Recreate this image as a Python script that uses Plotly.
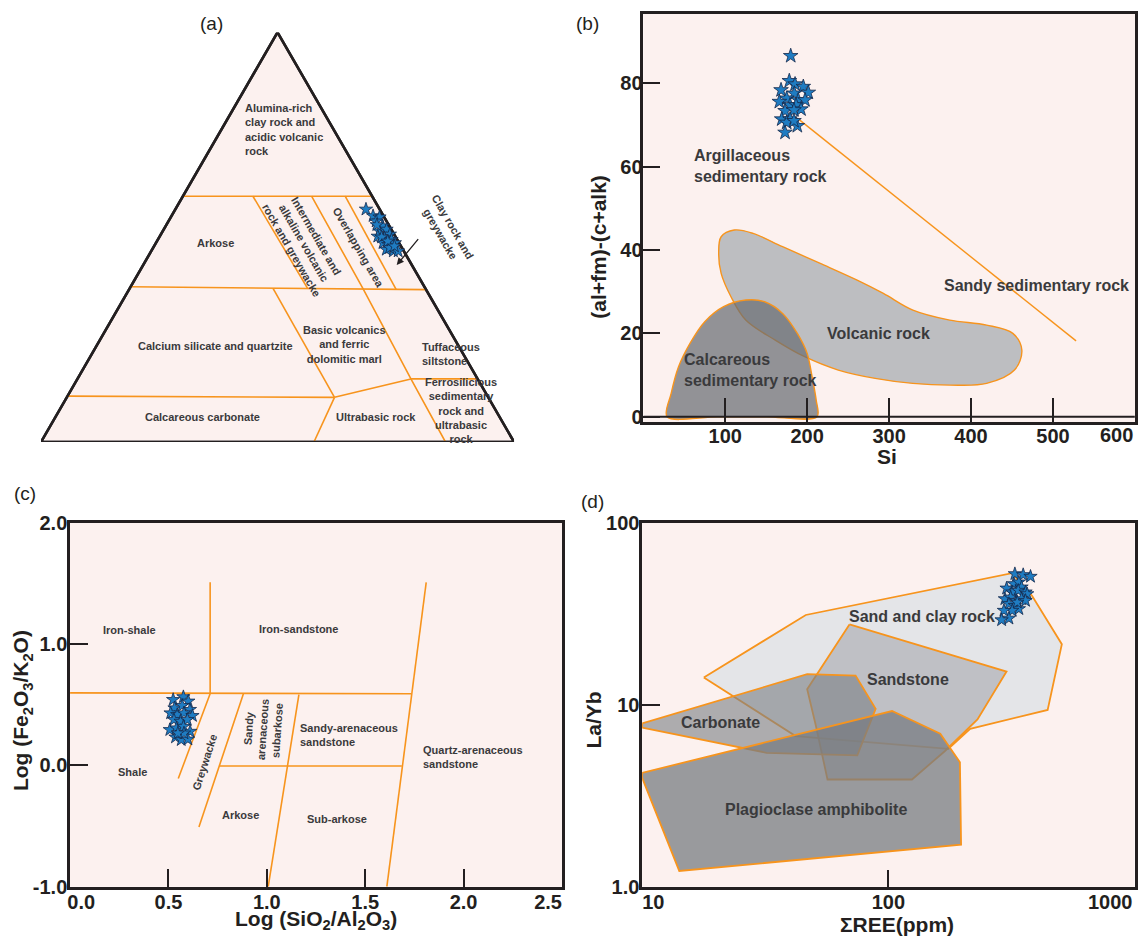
import math
import plotly.graph_objects as go

FONT = "Liberation Sans, Arial, Helvetica, sans-serif"
INK = "#231F20"
LABEL = "#3A3A3C"
ORANGE = "#F7941D"
PINK = "#FCF1EF"
STAR_FILL = "#1F7CC2"
STAR_EDGE = "#14284B"
NB = "\u00a0"
SQ3 = math.sqrt(3) / 2
W, H = 1139, 936

# ---------------- (a) A-C-FM ternary (values in %) ----------------
a_A = [56.8, 55.2, 54.9, 53.9, 52.7, 51.5, 51.9, 50.7, 50.2, 49.8, 49.4, 48.6,
       48.2, 48.6, 47.0, 46.6, 46.6, 47.4, 53.0, 50.0, 49.0, 47.8]
a_C = [2.9, 2.2, 1.0, 2.2, 1.4, 2.7, 1.0, 0.9, 3.7, 2.5, 1.2, 3.4,
       2.5, 0.9, 3.5, 2.2, 1.2, 2.6, 2.5, 3.0, 2.2, 1.4]
a_FM = [40.3, 42.6, 44.1, 43.9, 45.9, 45.8, 47.1, 48.4, 46.1, 47.7, 49.4, 48.0,
        49.3, 50.5, 49.5, 51.2, 52.2, 50.0, 44.5, 47.0, 48.8, 50.8]

# field boundaries, points as (A, C, FM)
a_outline = [(100, 0, 0), (0, 100, 0), (0, 0, 100), (100, 0, 0)]
a_bounds = [
    [(60, 40, 0), (60, 0, 40)],
    [(37.9, 62.1, 0), (37.2, 0, 62.8)],
    [(60, 25.2, 14.8), (37.5, 24.9, 37.6)],
    [(60, 12.8, 27.2), (37.4, 13.2, 49.4), (15.4, 14.1, 70.5), (0, 14.5, 85.5)],
    [(60, 5.7, 34.3), (37.2, 6.3, 56.5)],
    [(37.5, 32.2, 30.3), (10.9, 32.5, 56.6)],
    [(11.2, 88.8, 0), (10.9, 32.5, 56.6)],
    [(10.9, 32.5, 56.6), (15.4, 14.1, 70.5)],
    [(10.9, 32.5, 56.6), (0, 42.3, 57.7)],
    [(15.4, 14.1, 70.5), (15.4, 0, 84.6)],
]
# field names: (text, A, C, FM, angle, align)
a_fields = [
    ("Alumina-rich<br>clay rock and<br>acidic volcanic<br>rock", 76.2, 10.6, 13.2, 0, "left"),
    ("Arkose", 48.7, 38.85, 12.45, 0, "center"),
    ("Intermediate and<br>alkaline volcanic<br>rock and greywacke", 48.6, 20.3, 31.1, 60, "center"),
    ("Overlapping area", 47.4, 9.1, 43.5, 60, "center"),
    ("Clay rock and<br>greywacke", 51.8, -11.65, 59.85, 60, "center"),
    ("Calcium silicate and quartzite", 23.4, 51.5, 25.1, 0, "center"),
    ("Basic volcanics<br>and ferric<br>dolomitic marl", 23.8, 23.9, 52.3, 0, "center"),
    ("Tuffaceous<br>siltstone", 21.6, 2.6, 75.8, 0, "left"),
    ("Ferrosilicious<br>sedimentary<br>rock and<br>ultrabasic<br>rock", 7.8, 7.3, 84.9, 0, "center"),
    ("Ultrabasic rock", 6.1, 26.2, 67.7, 0, "center"),
    ("Calcareous carbonate", 6.1, 62.9, 31.0, 0, "center"),
]

# ---------------- (b) (al+fm)-(c+alk) vs Si ----------------
b_si = [179.9, 178.2, 185.2, 168.1, 195.3, 201.4, 184.3, 175.0, 166.0, 189.2, 197.4,
        179.1, 186.4, 173.0, 192.5, 183.9, 168.9, 179.1, 175.0, 188.0, 183.9, 173.0]
b_val = [86.6, 80.6, 79.8, 78.4, 79.2, 77.8, 77.6, 76.4, 75.6, 76.0, 76.0,
         74.8, 74.8, 73.4, 73.8, 73.6, 71.4, 71.4, 70.6, 69.8, 71.0, 68.2]
b_line_si = [188.3, 528.2]
b_line_val = [71.6, 18.2]
volc_si = [92, 95, 111, 134, 170, 216, 261, 293, 329, 374, 419, 451, 462, 453, 419,
           374, 329, 283, 238, 197, 161, 125, 107, 95, 92]
volc_val = [39.2, 43.2, 44.8, 44.0, 40.8, 36.8, 32.8, 29.6, 25.6, 23.2, 22.0, 20.0, 16.0,
            11.2, 8.0, 7.6, 8.0, 9.2, 11.2, 14.4, 18.4, 23.2, 28.8, 34.4, 39.2]
calc_si = [29, 34, 43, 57, 75, 98, 125, 148, 170, 188, 200, 206, 211, 212, 150, 90, 29]
calc_val = [0, 5.6, 12, 17.6, 22.8, 26.4, 28, 27.6, 24.8, 20, 15.2, 9.6, 4, 0, 0, 0, 0]
b_fields = [
    ("Argillaceous<br>sedimentary rock", 59, 60.2, "left"),
    ("Sandy sedimentary rock", 364, 31.6, "left"),
    ("Volcanic rock", 286.6, 20.0, "center"),
    ("Calcareous<br>sedimentary rock", 47, 11.2, "left"),
]
b_xticks = [100, 200, 300, 400, 500, 600]
b_xtext = ["100", "200", "300", "400", "500", "600"]
b_yticks = [0, 20, 40, 60, 80]

# ---------------- (c) Log(Fe2O3/K2O) vs Log(SiO2/Al2O3) ----------------
c_x = [0.524, 0.576, 0.601, 0.531, 0.570, 0.609, 0.511, 0.545, 0.579, 0.622, 0.528,
       0.562, 0.596, 0.507, 0.541, 0.576, 0.610, 0.536, 0.565, 0.599, 0.579, 0.548]
c_y = [0.541, 0.564, 0.528, 0.472, 0.492, 0.459, 0.431, 0.417, 0.431, 0.409, 0.376,
       0.362, 0.376, 0.293, 0.307, 0.320, 0.279, 0.232, 0.210, 0.215, 0.265, 0.265]
c_bounds = [
    ([0.0, 1.734], [0.597, 0.59]),
    ([0.712, 0.712], [1.508, 0.597]),
    ([1.81, 1.61], [1.508, -1.0]),
    ([0.712, 0.550], [0.59, -0.108]),
    ([0.881, 0.655], [0.59, -0.508]),
    ([1.163, 1.007], [0.583, -1.0]),
    ([0.759, 1.686], [-0.006, -0.006]),
]
c_fields = [
    ("Iron-shale", 0.30, 1.116, 0, "center"),
    ("Iron-sandstone", 1.163, 1.127, 0, "center"),
    ("Shale", 0.316, -0.058, 0, "center"),
    ("Greywacke", 0.683, 0.03, -72, "center"),
    ("Sandy<br>arenaceous<br>subarkose", 0.982, 0.293, -86, "center"),
    ("Sandy-arenaceous<br>sandstone", 1.42, 0.246, 0, "left"),
    ("Quartz-arenaceous<br>sandstone", 2.05, 0.066, 0, "left"),
    ("Arkose", 0.868, -0.406, 0, "center"),
    ("Sub-arkose", 1.359, -0.439, 0, "center"),
]
c_xticks = [0, 0.5, 1.0, 1.5, 2.0, 2.5]
c_xtext = [NB * 4 + "0.0", "0.5", "1.0", "1.5", "2.0", "2.5" + NB * 5]
c_yticks = [-1, 0, 1, 2]
c_ytext = ["-1.0", "0.0", "1.0", "2.0"]

# ---------------- (d) La/Yb vs total REE ----------------
d_ree = [326.5, 352.9, 377.9, 323.5, 338.9, 347.5, 302.2, 318.5, 336.8, 360.7, 366.3, 297.4,
         313.8, 330.7, 347.5, 360.7, 308.8, 326.5, 338.9, 318.5, 294.7, 308.8, 288.4, 333.7]
d_layb = [52.3, 51.7, 50.6, 46.1, 47.1, 44.2, 43.6, 41.5, 42.4, 41.5, 40.6, 38.1,
          38.9, 37.3, 38.1, 37.3, 35.8, 35.0, 33.6, 32.9, 32.9, 29.8, 29.2, 36.5]
sandclay_ree = [17.8, 46.2, 317.8, 383.3, 506.6, 443.6, 214.9, 175.2, 42.0, 17.8]
sandclay_lr = [14.1, 31.1, 52.8, 39.7, 21.5, 9.35, 7.37, 5.72, 6.72, 14.1]
sandstone_ree = [69.5, 302.0, 230.1, 169.4, 124.7, 56.6, 50.8, 46.8, 69.5]
sandstone_lr = [27.6, 15.2, 8.30, 5.55, 3.88, 3.88, 7.63, 12.15, 27.6]
carb_ree = [10.0, 46.8, 73.6, 88.8, 74.8, 32.0, 10.0, 10.0]
carb_lr = [7.89, 14.7, 14.45, 9.50, 5.26, 5.44, 7.47, 7.89]
plag_ree = [10.0, 103.5, 162.5, 195.3, 197.4, 14.15, 10.0, 10.0]
plag_lr = [4.22, 9.23, 6.92, 4.83, 1.70, 1.22, 3.96, 4.22]
d_fields = [
    ("Sand and clay rock", 137.2, 30.7),
    ("Sandstone", 120.6, 13.8),
    ("Carbonate", 20.9, 7.96),
    ("Plagioclase amphibolite", 51.0, 2.65),
]
d_xticks = [10, 100, 1000]
d_xtext = [NB * 4 + "10", "100", "1000"]
d_yticks = [1, 10, 100]
d_ytext = ["1.0", "10", "100"]


def tern(a, c, fm):
    """(A, C, FM) percentages -> cartesian position in the unit triangle."""
    s = a + c + fm
    return (fm + a / 2) / s, a / s * SQ3


def stars(x, y, xa, ya, size):
    return go.Scatter(x=x, y=y, mode="markers", xaxis=xa, yaxis=ya, showlegend=False,
                      marker=dict(symbol="star", size=size, color=STAR_FILL,
                                  line=dict(color=STAR_EDGE, width=0.8)))


def paper_text(text, px, py, font, angle=0, xanchor="center"):
    """Text placed by pixel position on the page."""
    return dict(x=px / W, y=1 - py / H, xref="paper", yref="paper", text=text,
                showarrow=False, textangle=angle, xanchor=xanchor, yanchor="middle",
                font=font)


TICKFONT = dict(family=FONT, size=20, color=INK, weight="bold")
TITLEFONT = dict(family=FONT, size=21, color=INK, weight="bold")
LETTERFONT = dict(family=FONT, size=19, color=INK)

fig = go.Figure()
ann = []

# ---- panel (a) ----
ox, oy = zip(*[tern(*p) for p in a_outline])
fig.add_trace(go.Scatter(x=ox, y=oy, mode="lines", fill="toself", fillcolor=PINK,
                         line=dict(color=INK, width=2.6), xaxis="x", yaxis="y",
                         showlegend=False, hoverinfo="skip"))
for seg in a_bounds:
    sx, sy = zip(*[tern(*p) for p in seg])
    fig.add_trace(go.Scatter(x=sx, y=sy, mode="lines", line=dict(color=ORANGE, width=1.6),
                             xaxis="x", yaxis="y", showlegend=False, hoverinfo="skip"))
# redraw the triangle edges above the field lines
fig.add_trace(go.Scatter(x=ox, y=oy, mode="lines", line=dict(color=INK, width=2.6),
                         xaxis="x", yaxis="y", showlegend=False, hoverinfo="skip",
                         cliponaxis=False))
txy = [tern(a, c, f) for a, c, f in zip(a_A, a_C, a_FM)]
fig.add_trace(stars([p[0] for p in txy], [p[1] for p in txy], "x", "y", 10))

for text, a, c, f, ang, al in a_fields:
    x, y = tern(a, c, f)
    ann.append(dict(x=x, y=y, xref="x", yref="y", text=text, showarrow=False,
                    textangle=ang, align=al,
                    font=dict(family=FONT, size=11, color=LABEL, weight="bold")))
for text, x, y in [("A", 0.50, 0.889), ("C", -0.017, -0.039), ("FM", 1.025, -0.039)]:
    ann.append(dict(x=x, y=y, xref="x", yref="y", text=text, showarrow=False,
                    xanchor="center", yanchor="middle",
                    font=dict(family=FONT, size=23, color=INK, weight="bold")))
ann.append(dict(x=0.752, y=0.374, ax=0.80, ay=0.432, xref="x", yref="y",
                axref="x", ayref="y", text="", showarrow=True, arrowhead=2,
                arrowsize=1.1, arrowwidth=1.3, arrowcolor=INK))

# ---- panel (b) ----
fig.add_trace(go.Scatter(x=volc_si, y=volc_val, mode="lines", fill="toself",
                         fillcolor="rgba(165,170,175,0.72)",
                         line=dict(color=ORANGE, width=1.4, shape="spline", smoothing=1.0),
                         xaxis="x2", yaxis="y2", showlegend=False, hoverinfo="skip"))
fig.add_trace(go.Scatter(x=calc_si, y=calc_val, mode="lines", fill="toself",
                         fillcolor="rgba(105,110,115,0.72)",
                         line=dict(color=ORANGE, width=1.4, shape="spline", smoothing=0.9),
                         xaxis="x2", yaxis="y2", showlegend=False, hoverinfo="skip"))
fig.add_trace(go.Scatter(x=b_line_si, y=b_line_val, mode="lines",
                         line=dict(color=ORANGE, width=1.4), xaxis="x2", yaxis="y2",
                         showlegend=False, hoverinfo="skip"))
fig.add_trace(stars(b_si, b_val, "x2", "y2", 11))
for text, x, y, al in b_fields:
    ann.append(dict(x=x, y=y, xref="x2", yref="y2", text=text, showarrow=False,
                    xanchor="left" if al == "left" else "center", align=al,
                    font=dict(family=FONT, size=16, color=LABEL, weight="bold")))
# last Si label sits flush with the right frame
ann.append(dict(x=b_xticks[-1], y=1 - 435 / H, xref="x2", yref="paper",
                text=b_xtext[-1], showarrow=False, xanchor="right", yanchor="middle",
                font=TICKFONT))

# ---- panel (c) ----
for bx, by in c_bounds:
    fig.add_trace(go.Scatter(x=bx, y=by, mode="lines", line=dict(color=ORANGE, width=1.6),
                             xaxis="x3", yaxis="y3", showlegend=False, hoverinfo="skip"))
fig.add_trace(stars(c_x, c_y, "x3", "y3", 10))
for text, x, y, ang, al in c_fields:
    ann.append(dict(x=x, y=y, xref="x3", yref="y3", text=text, showarrow=False,
                    textangle=ang, align=al,
                    font=dict(family=FONT, size=11, color=LABEL, weight="bold")))

# ---- panel (d) ----
for px_, py_, fc in [(sandclay_ree, sandclay_lr, "rgba(224,227,231,0.88)"),
                     (sandstone_ree, sandstone_lr, "rgba(160,163,168,0.55)"),
                     (carb_ree, carb_lr, "rgba(125,129,134,0.62)"),
                     (plag_ree, plag_lr, "rgba(120,124,129,0.75)")]:
    fig.add_trace(go.Scatter(x=px_, y=py_, mode="lines", fill="toself", fillcolor=fc,
                             line=dict(color=ORANGE, width=1.8), xaxis="x4", yaxis="y4",
                             showlegend=False, hoverinfo="skip"))
fig.add_trace(stars(d_ree, d_layb, "x4", "y4", 10))
for text, x, y in d_fields:
    ann.append(dict(x=math.log10(x), y=math.log10(y), xref="x4", yref="y4", text=text,
                    showarrow=False,
                    font=dict(family=FONT, size=16, color=LABEL, weight="bold")))
ann.append(dict(x=math.log10(d_xticks[-1]), y=1 - 902 / H, xref="x4", yref="paper",
                text=d_xtext[-1], showarrow=False, xanchor="right", yanchor="middle",
                font=TICKFONT))

# ---- panel letters and axis titles ----
ann += [paper_text("(a)", 211.8, 23.5, LETTERFONT),
        paper_text("(b)", 588, 23, LETTERFONT),
        paper_text("(c)", 25, 493, LETTERFONT),
        paper_text("(d)", 592.6, 501.7, LETTERFONT)]
ann += [paper_text("Si", 886.7, 456.7, TITLEFONT),
        paper_text("(al+fm)-(c+alk)", 599, 246.7, TITLEFONT, angle=-90),
        paper_text("Log (SiO<sub>2</sub>/Al<sub>2</sub>O<sub>3</sub>)", 316, 920, TITLEFONT),
        paper_text("Log (Fe<sub>2</sub>O<sub>3</sub>/K<sub>2</sub>O)", 21.6, 710.5, TITLEFONT,
                   angle=-90),
        paper_text("ΣREE(ppm)", 897.5, 924, TITLEFONT),
        paper_text("La/Yb", 592.6, 720, TITLEFONT, angle=-90)]


def framed(domain, rng, ticklen=18, standoff=0, **kw):
    return dict(domain=domain, range=rng, showline=True, linewidth=2.5, linecolor=INK,
                mirror=True, showgrid=False, zeroline=False, ticks="inside",
                ticklen=ticklen, tickwidth=2, tickcolor=INK, fixedrange=True,
                ticklabeloverflow="allow", automargin=False,
                ticklabelstandoff=standoff, tickfont=TICKFONT, **kw)


# pink plotting areas behind the three framed panels
panel_bg = [dict(type="rect", xref=f"x{i} domain", yref=f"y{i} domain",
                 x0=0, x1=1, y0=0, y1=1, fillcolor=PINK, line=dict(width=0),
                 layer="below") for i in (2, 3, 4)]

fig.update_layout(
    width=W, height=H, margin=dict(l=0, r=0, t=0, b=0, autoexpand=False),
    paper_bgcolor="white", plot_bgcolor="white", showlegend=False,
    xaxis=dict(domain=[0.0360, 0.4513], range=[0, 1], visible=False, fixedrange=True,
               automargin=False),
    yaxis=dict(domain=[0.5278, 0.9654], range=[0, SQ3], visible=False, fixedrange=True,
               automargin=False),
    xaxis2=framed([0.5648, 0.9964], [0, 600], ticklen=24, standoff=-6, anchor="y2",
                  tickmode="array", tickvals=b_xticks[:-1], ticktext=b_xtext[:-1]),
    yaxis2=framed([0.5491, 0.9850], [-1.27, 96.64], ticklen=17, standoff=-6, anchor="x2",
                  tickmode="array", tickvals=b_yticks),
    xaxis3=framed([0.0615, 0.4934], [0, 2.5], ticklen=18, standoff=-4, anchor="y3",
                  tickmode="array", tickvals=c_xticks, ticktext=c_xtext),
    yaxis3=framed([0.0527, 0.4416], [-1, 2], ticklen=18, standoff=-4, anchor="x3",
                  tickmode="array", tickvals=c_yticks, ticktext=c_ytext),
    xaxis4=framed([0.5638, 0.9961], [1, 3], ticklen=17, standoff=-4, anchor="y4",
                  type="log", tickmode="array", tickvals=d_xticks[:-1],
                  ticktext=d_xtext[:-1]),
    yaxis4=framed([0.0527, 0.4416], [0, 2], ticklen=18, standoff=-4, anchor="x4",
                  type="log", tickmode="array", tickvals=d_yticks, ticktext=d_ytext),
    annotations=ann,
    shapes=panel_bg + [dict(type="line", xref="x2", yref="y2", x0=0, x1=600, y0=0, y1=0,
                            line=dict(color=INK, width=2))],
)
fig.write_html("out.html")
